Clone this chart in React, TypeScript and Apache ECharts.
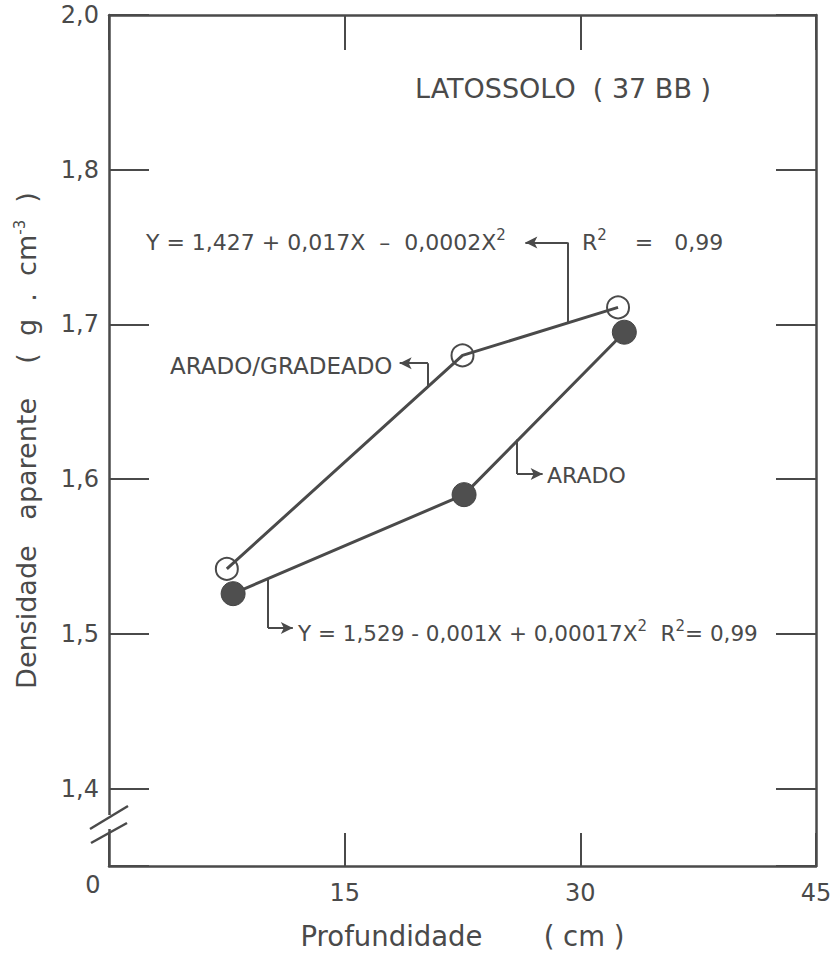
import React, { useEffect, useRef } from "react";
import * as echarts from "echarts";

// ---- data ----
const depthArGr = [7.5, 22.5, 32.4];
const densArGr = [1.542, 1.68, 1.711];
const depthAr = [7.9, 22.6, 32.8];
const densAr = [1.526, 1.59, 1.695];

const xTickValues = [0, 15, 30, 45];
const xTickLabels = ["0", "15", "30", "45"];
const yTickValues = [1.4, 1.5, 1.6, 1.7, 1.8, 1.9];
const yTickLabels = ["1,4", "1,5", "1,6", "1,7", "1,8", "2,0"];

const seriesNames = ["ARADO/GRADEADO", "ARADO"];
const titleText = "LATOSSOLO  ( 37 BB )";
const eqArGr = "Y = 1,427 + 0,017X  –  0,0002X{sup|2}";
const r2ArGr = "R{sup|2}    =   0,99";
const eqAr = "Y = 1,529 - 0,001X + 0,00017X{sup|2}  R{sup|2}= 0,99";
const xName = "Profundidade       ( cm )";
const yName = "Densidade   aparente    (  g  .  cm{sup|-3}  )";

// leader lines (data coordinates): start on the curve, bend, arrow end
const leaderEqTop = [[29.2, 1.7005], [29.2, 1.753], [26.5, 1.753]];
const leaderArGr = [[20.3, 1.6595], [20.3, 1.675], [18.5, 1.675]];
const leaderAr = [[25.97, 1.6257], [25.97, 1.6033], [27.6, 1.6033]];
const leaderEqBot = [[10.12, 1.5349], [10.12, 1.5038], [11.7, 1.5038]];

const INK = "#4a4a4a";
const FONT = "DejaVu Sans";

function leaderData(pts: number[][]) {
  return [
    [
      { coord: pts[0], symbol: "none" },
      { coord: pts[1], symbol: "none" },
    ],
    [
      { coord: pts[1], symbol: "none" },
      { coord: pts[2], symbol: "arrow" },
    ],
  ];
}

function yLabel(v: number) {
  const i = yTickValues.findIndex((t) => Math.abs(t - v) < 1e-6);
  return i >= 0 ? yTickLabels[i] : "";
}
function xLabel(v: number) {
  const i = xTickValues.findIndex((t) => Math.abs(t - v) < 1e-6);
  if (i < 0) return "";
  return i === 0 ? "{z|" + xTickLabels[i] + "}" : xTickLabels[i];
}

export default function App() {
  const ref = useRef<HTMLDivElement>(null);
  useEffect(() => {
    if (!ref.current) return;
    const chart = echarts.init(ref.current, undefined, { renderer: "svg" });
    const axisLine = { show: true, onZero: false, lineStyle: { color: INK, width: 2.5 } };
    const tickStyle = { color: INK, width: 2 };
    const supRich = { sup: { fontSize: 15, fontFamily: FONT, color: INK, padding: [0, 0, 14, 0] } };
    chart.setOption({
      animation: false,
      backgroundColor: "#ffffff",
      grid: { left: 109, right: 19, top: 15, bottom: 87, containLabel: false, outerBoundsMode: "none" },
      xAxis: [
        {
          type: "value",
          position: "bottom",
          min: 0,
          max: 45,
          interval: 15,
          axisLine,
          axisTick: { show: true, inside: true, length: 33, lineStyle: tickStyle },
          splitLine: { show: false },
          axisLabel: {
            formatter: xLabel,
            color: INK,
            fontFamily: FONT,
            fontSize: 24,
            margin: 15,
            rich: { z: { fontSize: 24, fontFamily: FONT, color: INK, padding: [0, 32, 0, 0], lineHeight: 8 } },
          },
          name: xName,
          nameLocation: "middle",
          nameGap: 56,
          nameTextStyle: { color: INK, fontFamily: FONT, fontSize: 27.5 },
        },
        {
          type: "value",
          position: "top",
          min: 0,
          max: 45,
          interval: 15,
          axisLine,
          axisTick: { show: true, inside: true, length: 35, lineStyle: tickStyle },
          splitLine: { show: false },
          axisLabel: { show: false },
        },
      ],
      yAxis: [
        {
          type: "value",
          position: "left",
          min: 1.35,
          max: 1.9,
          minInterval: 0.1,
          maxInterval: 0.1,
          axisLine,
          axisTick: { show: true, inside: true, length: 40, lineStyle: tickStyle },
          splitLine: { show: false },
          axisLabel: { formatter: yLabel, color: INK, fontFamily: FONT, fontSize: 24, margin: 10 },
          name: yName,
          nameLocation: "middle",
          nameGap: 68,
          nameTextStyle: { color: INK, fontFamily: FONT, fontSize: 27, rich: supRich },
        },
        {
          type: "value",
          position: "right",
          min: 1.35,
          max: 1.9,
          minInterval: 0.1,
          maxInterval: 0.1,
          axisLine,
          axisTick: { show: true, inside: true, length: 40, lineStyle: tickStyle },
          splitLine: { show: false },
          axisLabel: { show: false },
        },
      ],
      series: [
        {
          name: seriesNames[0],
          type: "line",
          data: depthArGr.map((x, i) => [x, densArGr[i]]),
          symbol: "circle",
          symbolSize: 22,
          showAllSymbol: true,
          lineStyle: { color: INK, width: 3 },
          itemStyle: { color: "rgba(0,0,0,0)", borderColor: INK, borderWidth: 2 },
          z: 3,
        },
        {
          name: seriesNames[1],
          type: "line",
          data: depthAr.map((x, i) => [x, densAr[i]]),
          symbol: "circle",
          symbolSize: 24,
          lineStyle: { color: INK, width: 3 },
          itemStyle: { color: "#4f4f4f", borderColor: "#444", borderWidth: 1 },
          z: 2,
          markLine: {
            silent: true,
            animation: false,
            symbolSize: [9, 12],
            label: { show: false },
            lineStyle: { color: INK, width: 2, type: "solid" },
            data: [
              ...leaderData(leaderEqTop),
              ...leaderData(leaderArGr),
              ...leaderData(leaderAr),
              ...leaderData(leaderEqBot),
            ],
          },
        },
      ],
      graphic: [
        {
          type: "text",
          x: 415,
          y: 88,
          style: { text: titleText, font: `27px '${FONT}'`, fill: INK, verticalAlign: "middle" },
        },
        {
          type: "text",
          x: 146,
          y: 242,
          style: { text: eqArGr, font: `22px '${FONT}'`, fill: INK, verticalAlign: "middle", rich: supRich },
        },
        {
          type: "text",
          x: 582,
          y: 242,
          style: { text: r2ArGr, font: `22px '${FONT}'`, fill: INK, verticalAlign: "middle", rich: supRich },
        },
        {
          type: "text",
          x: 170,
          y: 366,
          style: { text: seriesNames[0], font: `23px '${FONT}'`, fill: INK, verticalAlign: "middle" },
        },
        {
          type: "text",
          x: 547,
          y: 475,
          style: { text: seriesNames[1], font: `22px '${FONT}'`, fill: INK, verticalAlign: "middle" },
        },
        {
          type: "text",
          x: 298,
          y: 633,
          style: { text: eqAr, font: `21.5px '${FONT}'`, fill: INK, verticalAlign: "middle", rich: supRich },
        },
        // axis break marks
        { type: "rect", shape: { x: 104, y: 815, width: 12, height: 14 }, style: { fill: "#ffffff" }, z: 100 },
        { type: "line", shape: { x1: 90, y1: 829, x2: 128, y2: 806 }, style: { stroke: INK, lineWidth: 2.5 }, z: 101 },
        { type: "line", shape: { x1: 91, y1: 843, x2: 127, y2: 823 }, style: { stroke: INK, lineWidth: 2.5 }, z: 101 },
      ],
    });
    return () => chart.dispose();
  }, []);
  return (
    <div
      ref={ref}
      style={{ position: "absolute", left: 0, top: 0, width: 835, height: 953, background: "#fff" }}
    />
  );
}
